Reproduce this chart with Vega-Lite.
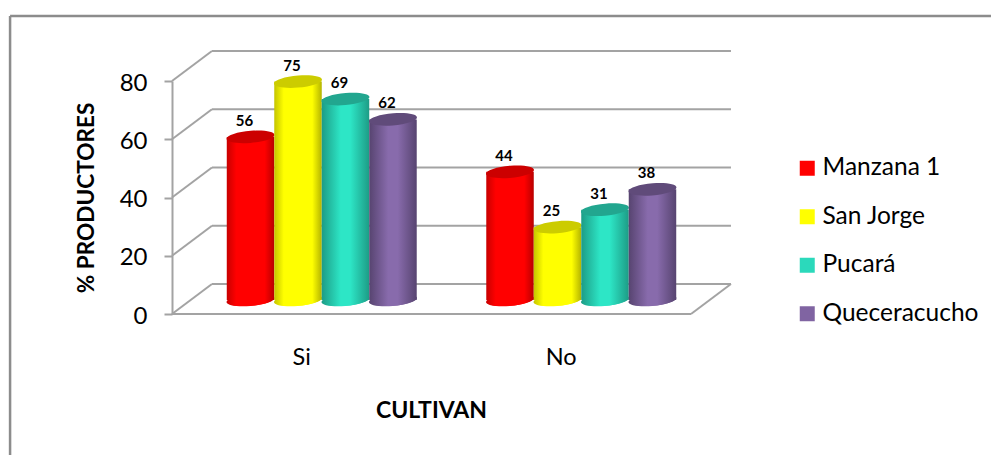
{
  "$schema": "https://vega.github.io/schema/vega-lite/v6.json",
  "width": 519,
  "height": 233,
  "padding": {"left": 172, "top": 81, "right": 300, "bottom": 141},
  "autosize": "none",
  "background": "white",
  "config": {"view": {"stroke": null}, "font": "Lato"},
  "datasets": {
    "results": [
      {"cultivan": "Si", "zona": "Manzana 1", "pct": 56},
      {"cultivan": "Si", "zona": "San Jorge", "pct": 75},
      {"cultivan": "Si", "zona": "Pucará", "pct": 69},
      {"cultivan": "Si", "zona": "Queceracucho", "pct": 62},
      {"cultivan": "No", "zona": "Manzana 1", "pct": 44},
      {"cultivan": "No", "zona": "San Jorge", "pct": 25},
      {"cultivan": "No", "zona": "Pucará", "pct": 31},
      {"cultivan": "No", "zona": "Queceracucho", "pct": 38}
    ],
    "frame": [
      {"x": -0.312, "y": 102.3, "x2": 1.578, "y2": 102.3},
      {"x": -0.312, "y": 102.3, "x2": -0.312, "y2": -48.4}
    ],
    "walls": [
      {"x": 0.077, "y": 10.3, "x2": 1.077, "y2": 10.3},
      {"x": 0.077, "y": 30.3, "x2": 1.077, "y2": 30.3},
      {"x": 0.077, "y": 50.3, "x2": 1.077, "y2": 50.3},
      {"x": 0.077, "y": 70.3, "x2": 1.077, "y2": 70.3},
      {"x": 0.077, "y": 90.3, "x2": 1.077, "y2": 90.3},
      {"x": 0, "y": 0, "x2": 0.077, "y2": 10.3},
      {"x": 0, "y": 20, "x2": 0.077, "y2": 30.3},
      {"x": 0, "y": 40, "x2": 0.077, "y2": 50.3},
      {"x": 0, "y": 60, "x2": 0.077, "y2": 70.3},
      {"x": 0, "y": 80, "x2": 0.077, "y2": 90.3},
      {"x": 0, "y": 0, "x2": 1, "y2": 0},
      {"x": 1, "y": 0, "x2": 1.077, "y2": 10.3}
    ]
  },
  "layer": [
    {
      "data": {"name": "frame"},
      "mark": {"type": "rule", "stroke": "#8c8c8c", "strokeWidth": 2.5},
      "encoding": {
        "x": {"field": "x", "type": "quantitative", "scale": {"domain": [0, 1], "nice": false, "zero": false}, "axis": null},
        "x2": {"field": "x2"},
        "y": {"field": "y", "type": "quantitative", "scale": {"domain": [0, 80], "nice": false}, "axis": {"title": "% PRODUCTORES", "titleFontSize": 22.6, "titleFontWeight": "bold", "titleColor": "#000", "titlePadding": 21, "values": [0, 20, 40, 60, 80], "labelFontSize": 24, "labelColor": "#000", "labelPadding": 17, "labelOffset": 2, "tickSize": 8, "tickColor": "#a3a3a3", "tickWidth": 2, "domainColor": "#a3a3a3", "domainWidth": 2, "grid": false}},
        "y2": {"field": "y2"}
      }
    },
    {
      "data": {"name": "walls"},
      "mark": {"type": "rule", "stroke": "#a3a3a3", "strokeWidth": 2},
      "encoding": {
        "x": {"field": "x", "type": "quantitative", "scale": {"domain": [0, 1], "nice": false, "zero": false}, "axis": null},
        "x2": {"field": "x2"},
        "y": {"field": "y", "type": "quantitative", "scale": {"domain": [0, 80], "nice": false}, "axis": {"title": "% PRODUCTORES", "titleFontSize": 22.6, "titleFontWeight": "bold", "titleColor": "#000", "titlePadding": 21, "values": [0, 20, 40, 60, 80], "labelFontSize": 24, "labelColor": "#000", "labelPadding": 17, "labelOffset": 2, "tickSize": 8, "tickColor": "#a3a3a3", "tickWidth": 2, "domainColor": "#a3a3a3", "domainWidth": 2, "grid": false}},
        "y2": {"field": "y2"}
      }
    },
    {
      "data": {"name": "results"},
      "encoding": {
        "x": {
          "field": "cultivan", "type": "nominal", "sort": ["Si", "No"],
          "scale": {"paddingInner": 0.268, "paddingOuter": 0.134, "range": [20, 539]},
          "axis": {"title": "CULTIVAN", "titleFontSize": 23, "titleFontWeight": "bold", "titleColor": "#000", "titlePadding": 31, "titleX": 259, "labelFontSize": 23.5, "labelColor": "#000", "labelAngle": 0, "labelPadding": 31, "labelOffset": -20, "ticks": false, "domain": false}
        },
        "xOffset": {"field": "zona", "type": "nominal", "sort": ["Manzana 1", "San Jorge", "Pucará", "Queceracucho"], "scale": {"padding": 0}},
        "y": {"field": "pct", "type": "quantitative", "scale": {"domain": [0, 80], "nice": false}, "axis": {"title": "% PRODUCTORES", "titleFontSize": 22.6, "titleFontWeight": "bold", "titleColor": "#000", "titlePadding": 21, "values": [0, 20, 40, 60, 80], "labelFontSize": 24, "labelColor": "#000", "labelPadding": 17, "labelOffset": 2, "tickSize": 8, "tickColor": "#a3a3a3", "tickWidth": 2, "domainColor": "#a3a3a3", "domainWidth": 2, "grid": false}}
      },
      "layer": [
        {
          "mark": {"type": "point", "filled": true, "opacity": 1, "size": 2116, "yOffset": -14, "shape": "M-1,0.08 A1,0.25 -5 1 1 1,-0.08 A1,0.25 -5 1 1 -1,0.08 Z"},
          "encoding": {
            "y": {"datum": 0, "type": "quantitative"},
            "fill": {
              "field": "zona", "type": "nominal", "sort": ["Manzana 1", "San Jorge", "Pucará", "Queceracucho"],
              "scale": {"domain": ["Manzana 1", "San Jorge", "Pucará", "Queceracucho"], "range": ["#ff0000", "#ffff00", "#2bd9bb", "#8064a2"]},
              "legend": {"title": null, "orient": "none", "legendX": 623, "legendY": 75, "symbolType": "square", "symbolSize": 225, "symbolStrokeWidth": 0, "symbolOpacity": 1, "labelFontSize": 24.5, "labelColor": "#000", "rowPadding": 23.5, "labelOffset": 3}
            }
          }
        },
        {
          "transform": [{"filter": "datum.zona === 'Manzana 1'"}],
          "layer": [
            {"mark": {"type": "point", "filled": true, "opacity": 1, "size": 2304, "yOffset": -14, "shape": "M-1,0.08 A1,0.25 -5 1 1 1,-0.08 A1,0.25 -5 1 1 -1,0.08 Z", "fill": {"x1": 0, "x2": 1, "y1": 0, "y2": 0, "gradient": "linear", "stops": [{"offset": 0, "color": "#c80000"}, {"offset": 0.2, "color": "#ff0000"}, {"offset": 0.8, "color": "#ff0000"}, {"offset": 1, "color": "#b80000"}]}}, "encoding": {"y": {"datum": 0, "type": "quantitative"}}},
            {"mark": {"type": "bar", "yOffset": -14, "y2Offset": -14, "fill": {"x1": 0, "x2": 1, "y1": 0, "y2": 0, "gradient": "linear", "stops": [{"offset": 0, "color": "#c80000"}, {"offset": 0.2, "color": "#ff0000"}, {"offset": 0.8, "color": "#ff0000"}, {"offset": 1, "color": "#b80000"}]}}},
            {"mark": {"type": "point", "filled": true, "opacity": 1, "size": 2304, "yOffset": -14, "fill": "#cc0000", "shape": "M-1,0.08 A1,0.25 -5 1 1 1,-0.08 A1,0.25 -5 1 1 -1,0.08 Z"}}
          ]
        },
        {
          "transform": [{"filter": "datum.zona === 'San Jorge'"}],
          "layer": [
            {"mark": {"type": "point", "filled": true, "opacity": 1, "size": 2304, "yOffset": -14, "shape": "M-1,0.08 A1,0.25 -5 1 1 1,-0.08 A1,0.25 -5 1 1 -1,0.08 Z", "fill": {"x1": 0, "x2": 1, "y1": 0, "y2": 0, "gradient": "linear", "stops": [{"offset": 0, "color": "#c4c400"}, {"offset": 0.2, "color": "#ffff00"}, {"offset": 0.8, "color": "#ffff00"}, {"offset": 1, "color": "#b4b400"}]}}, "encoding": {"y": {"datum": 0, "type": "quantitative"}}},
            {"mark": {"type": "bar", "yOffset": -14, "y2Offset": -14, "fill": {"x1": 0, "x2": 1, "y1": 0, "y2": 0, "gradient": "linear", "stops": [{"offset": 0, "color": "#c4c400"}, {"offset": 0.2, "color": "#ffff00"}, {"offset": 0.8, "color": "#ffff00"}, {"offset": 1, "color": "#b4b400"}]}}},
            {"mark": {"type": "point", "filled": true, "opacity": 1, "size": 2304, "yOffset": -14, "fill": "#cccc00", "shape": "M-1,0.08 A1,0.25 -5 1 1 1,-0.08 A1,0.25 -5 1 1 -1,0.08 Z"}}
          ]
        },
        {
          "transform": [{"filter": "datum.zona === 'Pucará'"}],
          "layer": [
            {"mark": {"type": "point", "filled": true, "opacity": 1, "size": 2304, "yOffset": -14, "shape": "M-1,0.08 A1,0.25 -5 1 1 1,-0.08 A1,0.25 -5 1 1 -1,0.08 Z", "fill": {"x1": 0, "x2": 1, "y1": 0, "y2": 0, "gradient": "linear", "stops": [{"offset": 0, "color": "#1d9c86"}, {"offset": 0.4, "color": "#2de6c6"}, {"offset": 0.6, "color": "#2de6c6"}, {"offset": 1, "color": "#1d9c86"}]}}, "encoding": {"y": {"datum": 0, "type": "quantitative"}}},
            {"mark": {"type": "bar", "yOffset": -14, "y2Offset": -14, "fill": {"x1": 0, "x2": 1, "y1": 0, "y2": 0, "gradient": "linear", "stops": [{"offset": 0, "color": "#1d9c86"}, {"offset": 0.4, "color": "#2de6c6"}, {"offset": 0.6, "color": "#2de6c6"}, {"offset": 1, "color": "#1d9c86"}]}}},
            {"mark": {"type": "point", "filled": true, "opacity": 1, "size": 2304, "yOffset": -14, "fill": "#22a68f", "shape": "M-1,0.08 A1,0.25 -5 1 1 1,-0.08 A1,0.25 -5 1 1 -1,0.08 Z"}}
          ]
        },
        {
          "transform": [{"filter": "datum.zona === 'Queceracucho'"}],
          "layer": [
            {"mark": {"type": "point", "filled": true, "opacity": 1, "size": 2304, "yOffset": -14, "shape": "M-1,0.08 A1,0.25 -5 1 1 1,-0.08 A1,0.25 -5 1 1 -1,0.08 Z", "fill": {"x1": 0, "x2": 1, "y1": 0, "y2": 0, "gradient": "linear", "stops": [{"offset": 0, "color": "#574470"}, {"offset": 0.4, "color": "#886bac"}, {"offset": 0.6, "color": "#886bac"}, {"offset": 1, "color": "#574470"}]}}, "encoding": {"y": {"datum": 0, "type": "quantitative"}}},
            {"mark": {"type": "bar", "yOffset": -14, "y2Offset": -14, "fill": {"x1": 0, "x2": 1, "y1": 0, "y2": 0, "gradient": "linear", "stops": [{"offset": 0, "color": "#574470"}, {"offset": 0.4, "color": "#886bac"}, {"offset": 0.6, "color": "#886bac"}, {"offset": 1, "color": "#574470"}]}}},
            {"mark": {"type": "point", "filled": true, "opacity": 1, "size": 2304, "yOffset": -14, "fill": "#604b7a", "shape": "M-1,0.08 A1,0.25 -5 1 1 1,-0.08 A1,0.25 -5 1 1 -1,0.08 Z"}}
          ]
        },
        {
          "mark": {"type": "text", "fontWeight": "bold", "fontSize": 15, "color": "#000", "dx": -6, "yOffset": -30},
          "encoding": {"text": {"field": "pct", "type": "quantitative"}}
        }
      ]
    }
  ],
  "resolve": {"scale": {"x": "independent"}}
}
